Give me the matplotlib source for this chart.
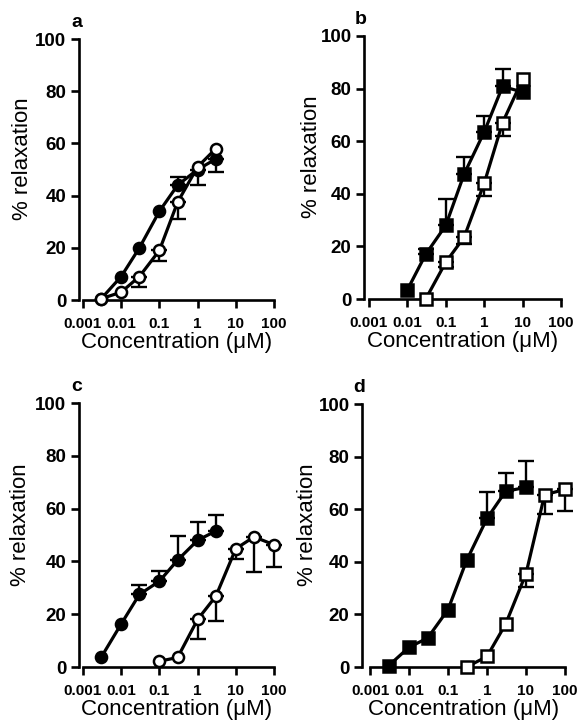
import numpy as np
import matplotlib
matplotlib.use("Agg")
import matplotlib.pyplot as plt

plt.rcParams['font.family'] = ['Liberation Sans', 'DejaVu Sans']

# concentrations (uM) and % relaxation
a_solid_x = [0.003, 0.01, 0.03, 0.1, 0.3, 1, 3]
a_solid_y = [0.5, 9, 20, 34, 44, 50, 54]
a_solid_up = [0, 0, 0, 0, 3, 0, 0]
a_solid_dn = [0, 0, 0, 0, 0, 6, 5]
a_open_x = [0.003, 0.01, 0.03, 0.1, 0.3, 1, 3]
a_open_y = [0.5, 3, 9, 19, 37.5, 51, 58]
a_open_up = [0, 0, 0, 0, 0, 0, 0]
a_open_dn = [0, 0, 4, 4, 6.5, 0, 0]

b_solid_x = [0.01, 0.03, 0.1, 0.3, 1, 3, 10]
b_solid_y = [3.5, 17, 28, 47.5, 63.5, 80.8, 78.7]
b_solid_up = [0, 2, 10, 6.5, 6, 6.5, 0]
b_solid_dn = [0, 0, 0, 0, 0, 0, 0]
b_open_x = [0.03, 0.1, 0.3, 1, 3, 10]
b_open_y = [0, 14, 23.5, 44, 67, 83.6]
b_open_up = [0, 0, 0, 0, 0, 0]
b_open_dn = [0, 2, 2.5, 5, 5, 0]

c_solid_x = [0.003, 0.01, 0.03, 0.1, 0.3, 1, 3]
c_solid_y = [3.7, 16.3, 27.5, 32.5, 40.5, 48, 51.5]
c_solid_up = [0, 0, 3.5, 4, 9, 7, 6]
c_solid_dn = [0, 0, 0, 0, 0, 0, 0]
c_open_x = [0.1, 0.3, 1, 3, 10, 30, 100]
c_open_y = [2.2, 3.6, 18, 26.8, 44.8, 49.3, 46.3]
c_open_up = [0, 0, 0, 0, 0, 0, 0]
c_open_dn = [0, 0, 7.5, 9.3, 3.8, 13.5, 8.5]

d_solid_x = [0.003, 0.01, 0.03, 0.1, 0.3, 1, 3, 10]
d_solid_y = [0.5, 7.5, 11, 21.8, 40.5, 56.5, 66.8, 68.3]
d_solid_up = [0, 0, 0, 0, 0, 10, 7, 10]
d_solid_dn = [0, 0, 0, 0, 0, 0, 0, 0]
d_open_x = [0.3, 1, 3, 10, 30, 100]
d_open_y = [0, 4, 16.3, 35.5, 65.5, 67.5]
d_open_up = [0, 0, 0, 0, 0, 0]
d_open_dn = [0, 0, 0, 5, 7.5, 8]

x_ticks = [0.001, 0.01, 0.1, 1, 10, 100]
x_tick_labels = ["0.001", "0.01", "0.1", "1", "10", "100"]
y_ticks = [0, 20, 40, 60, 80, 100]

W, H = 580, 723
fig = plt.figure(figsize=(W / 100, H / 100), dpi=100)


def place(axis_px, dec0_px, dec100_px, y0_px, y100_px):
    ax = fig.add_axes([axis_px / W, 1 - y0_px / H,
                       (dec100_px - axis_px) / W, (y0_px - y100_px) / H])
    per_dec = (dec100_px - dec0_px) / 5
    ax.set_xscale("log")
    ax.set_xlim(10 ** (-3 - (dec0_px - axis_px) / per_dec), 100)
    ax.set_ylim(0, 100)
    return ax


def draw_series(ax, x, y, up, dn, marker, filled, z):
    x = np.array(x)
    y = np.array(y)
    up = np.array(up)
    dn = np.array(dn)
    m = (up > 0) | (dn > 0)
    if m.any():
        ax.errorbar(x[m], y[m], yerr=[dn[m], up[m]], fmt="none", ecolor="black",
                    elinewidth=1.7, capsize=5.5, capthick=1.7, zorder=2, clip_on=False)
    ax.plot(x, y, color="black", lw=2.3, zorder=3, clip_on=False)
    ms = 8 if marker == "o" else 8.5
    ax.plot(x, y, ls="none", marker=marker, ms=ms, mew=1.8, mec="black",
            mfc="black" if filled else "white", zorder=z, clip_on=False)


def style(ax, letter, ylab_px):
    for s in ["top", "right"]:
        ax.spines[s].set_visible(False)
    ax.spines["left"].set_bounds(0, 100)
    ax.spines["bottom"].set_bounds(0.001, 100)
    for s in ["left", "bottom"]:
        ax.spines[s].set_linewidth(1.9)
    ax.set_xticks(x_ticks)
    ax.set_xticklabels(x_tick_labels)
    ax.xaxis.set_minor_locator(matplotlib.ticker.NullLocator())
    ax.set_yticks(y_ticks)
    ax.tick_params(axis="y", length=6, width=1.9, pad=3, labelsize=13.5)
    ax.tick_params(axis="x", length=6, width=1.9, pad=6, labelsize=11)
    for t in ax.get_xticklabels() + ax.get_yticklabels():
        t.set_fontweight("bold")
    ax.set_xlabel("Concentration (μM)", fontsize=16, labelpad=1)
    ax.set_ylabel("% relaxation", fontsize=16)
    bb = ax.get_position()
    ax.yaxis.set_label_coords(-ylab_px / (bb.width * W), 0.54)
    ax.annotate(letter, xy=(0, 1), xycoords="axes fraction", xytext=(2, 6),
                textcoords="offset points", ha="right", va="bottom",
                fontsize=14, fontweight="bold")


ax_a = place(79, 83, 274, 300, 39)
draw_series(ax_a, a_solid_x, a_solid_y, a_solid_up, a_solid_dn, "o", True, 4)
draw_series(ax_a, a_open_x, a_open_y, a_open_up, a_open_dn, "o", False, 5)
style(ax_a, "a", 46)

ax_b = place(364, 369, 561, 299, 36)
draw_series(ax_b, b_solid_x, b_solid_y, b_solid_up, b_solid_dn, "s", True, 4)
draw_series(ax_b, b_open_x, b_open_y, b_open_up, b_open_dn, "s", False, 5)
style(ax_b, "b", 42)

ax_c = place(79, 83, 274, 667, 403)
draw_series(ax_c, c_solid_x, c_solid_y, c_solid_up, c_solid_dn, "o", True, 4)
draw_series(ax_c, c_open_x, c_open_y, c_open_up, c_open_dn, "o", False, 5)
style(ax_c, "c", 48)

ax_d = place(362, 370, 565, 667, 404)
draw_series(ax_d, d_solid_x, d_solid_y, d_solid_up, d_solid_dn, "s", True, 4)
draw_series(ax_d, d_open_x, d_open_y, d_open_up, d_open_dn, "s", False, 5)
style(ax_d, "d", 44)

fig.savefig("out.png", dpi=100)
